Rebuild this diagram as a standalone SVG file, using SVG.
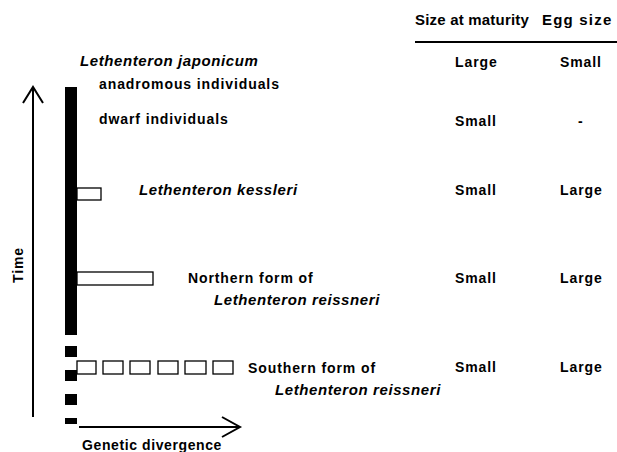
<svg xmlns="http://www.w3.org/2000/svg" width="617" height="452" viewBox="0 0 617 452">
<style>
text{font-family:"Liberation Sans",Arial,sans-serif;font-weight:bold;font-size:14px;letter-spacing:0.9px;fill:#000}
.it{font-style:italic;font-size:15px;letter-spacing:0.6px}
.hd{font-size:15px;letter-spacing:0.2px}
.bar{fill:#000}
.box{fill:#fff;stroke:#000;stroke-width:1.3}
.ax{fill:none;stroke:#000;stroke-width:2}
</style>
<rect width="617" height="452" fill="#fff"/>
<g id="header">
<text class="hd" x="415" y="25">Size at maturity</text>
<text class="hd" x="542" y="25" style="letter-spacing:1.2px">Egg size</text>
<line x1="415" y1="42" x2="617" y2="42" stroke="#000" stroke-width="2"/>
</g>
<g id="lineage">
<rect class="bar" x="65" y="87" width="12" height="248"/>
<rect class="bar" x="65" y="346" width="12" height="11"/>
<rect class="bar" x="65" y="370" width="12" height="11"/>
<rect class="bar" x="65" y="394" width="12" height="11"/>
<rect class="bar" x="65" y="418" width="12" height="6"/>
</g>
<g id="japonicum">
<text class="it" x="80" y="66">Lethenteron japonicum</text>
<text x="99" y="89">anadromous individuals</text>
<text x="99" y="124">dwarf individuals</text>
<text x="455" y="67">Large</text>
<text x="560" y="67">Small</text>
<text x="455" y="126">Small</text>
<text x="578" y="126">-</text>
</g>
<g id="kessleri">
<rect class="box" x="77" y="188" width="24" height="12"/>
<text class="it" x="139" y="195">Lethenteron kessleri</text>
<text x="455" y="195">Small</text>
<text x="560" y="195">Large</text>
</g>
<g id="northern">
<rect class="box" x="77" y="272" width="76" height="13"/>
<text x="188" y="283">Northern form of</text>
<text class="it" x="214" y="305">Lethenteron reissneri</text>
<text x="455" y="283">Small</text>
<text x="560" y="283">Large</text>
</g>
<g id="southern">
<rect class="box" x="77" y="361" width="19" height="13"/>
<rect class="box" x="103" y="361" width="20" height="13"/>
<rect class="box" x="130" y="361" width="20" height="13"/>
<rect class="box" x="158" y="361" width="20" height="13"/>
<rect class="box" x="185" y="361" width="21" height="13"/>
<rect class="box" x="213" y="361" width="20" height="13"/>
<text x="248" y="373">Southern form of</text>
<text class="it" x="275" y="395">Lethenteron reissneri</text>
<text x="455" y="372">Small</text>
<text x="560" y="372">Large</text>
</g>
<g id="connectors">
<line class="ax" x1="33" y1="88" x2="33" y2="417"/>
<polyline class="ax" points="23,103 33,87 43,103"/>
<line class="ax" x1="79" y1="427" x2="239" y2="427"/>
<polyline class="ax" points="222,417 240,427 222,437"/>
</g>
<g id="axis-labels">
<text x="0" y="0" transform="translate(23,265) rotate(-90)" text-anchor="middle">Time</text>
<text x="82" y="450" style="letter-spacing:0.6px">Genetic divergence</text>
</g>
</svg>
